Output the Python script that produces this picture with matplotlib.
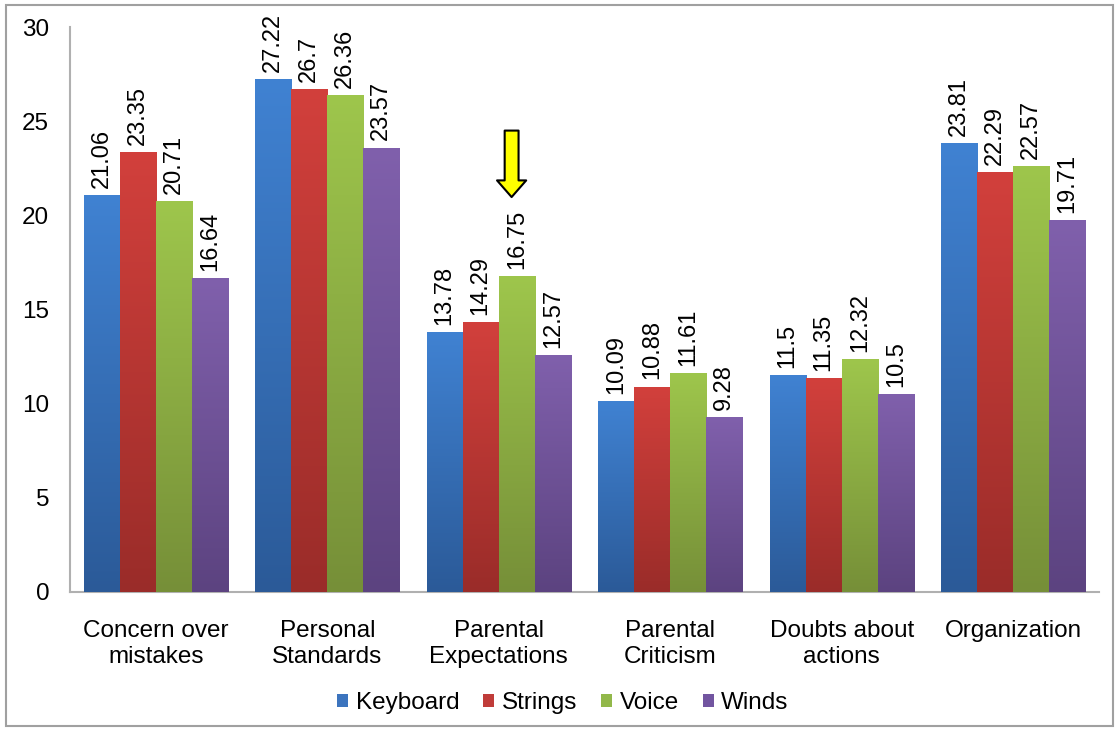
import numpy as np
import matplotlib
matplotlib.use("Agg")
import matplotlib.pyplot as plt
from matplotlib.patches import Patch, Rectangle
from matplotlib.colors import LinearSegmentedColormap

plt.rcParams['font.family'] = ['Liberation Sans', 'DejaVu Sans']

categories = ["Concern over\nmistakes", "Personal\nStandards", "Parental\nExpectations",
              "Parental\nCriticism", "Doubts about\nactions", "Organization"]
series = ["Keyboard", "Strings", "Voice", "Winds"]
keyboard = [21.06, 27.22, 13.78, 10.09, 11.5, 23.81]
strings = [23.35, 26.7, 14.29, 10.88, 11.35, 22.29]
voice = [20.71, 26.36, 16.75, 11.61, 12.32, 22.57]
winds = [16.64, 23.57, 12.57, 9.28, 10.5, 19.71]
values = [keyboard, strings, voice, winds]
yticks = [0, 5, 10, 15, 20, 25, 30]

top_colors = ["#4082d2", "#d2403c", "#9ec64c", "#8060ac"]
bot_colors = ["#2b5a98", "#9a2c29", "#768f38", "#5c4380"]
legend_colors = ["#3c74be", "#c03c39", "#92b84a", "#7255a0"]

W, H = 1119, 731
fig = plt.figure(figsize=(W / 100, H / 100), dpi=100)
ax = fig.add_axes([70 / W, (H - 592) / H, (1099 - 70) / W, (592 - 27) / H])

x = np.arange(len(categories))
bw = 0.21
for i, (vals, name) in enumerate(zip(values, series)):
    pos = x + (i - 1.5) * bw
    bars = ax.bar(pos, vals, width=bw, color=legend_colors[i], label=name, zorder=2)
    cmap = LinearSegmentedColormap.from_list(name, [bot_colors[i], top_colors[i]])
    grad = np.linspace(0, 1, 256).reshape(-1, 1)
    for b in bars:
        ax.imshow(grad, extent=(b.get_x(), b.get_x() + b.get_width(), 0, b.get_height()),
                  origin='lower', aspect='auto', cmap=cmap, zorder=3, interpolation='bicubic')
    ax.bar_label(bars, labels=[f"{v:g}" for v in vals], rotation=90, padding=5.5,
                 fontsize=17, zorder=4)

ax.set_xlim(-0.5, len(categories) - 0.5)
ax.set_ylim(0, 30)
ax.set_yticks(yticks)
ax.set_xticks(x)
ax.set_xticklabels(categories, fontsize=17.5, linespacing=1.25)
ax.tick_params(axis='y', length=0, pad=15, labelsize=17.5)
ax.tick_params(axis='x', length=0, pad=20)
for s in ['top', 'right']:
    ax.spines[s].set_visible(False)
for s in ['left', 'bottom']:
    ax.spines[s].set_color('#b0b0b0')
    ax.spines[s].set_linewidth(1.5)

# highlight arrow above Voice / Parental Expectations
ax.annotate('', xy=(2 + 0.5 * bw - 0.03, 20.97), xytext=(2 + 0.5 * bw - 0.03, 24.5),
            arrowprops=dict(arrowstyle='simple,head_length=0.6,head_width=1.05,tail_width=0.5',
                            fc='#ffff00', ec='black', lw=1.5, shrinkA=0, shrinkB=0,
                            mutation_scale=20), zorder=5)

handles = [Patch(facecolor=c, label=n) for c, n in zip(legend_colors, series)]
fig.legend(handles=handles, loc='center', bbox_to_anchor=(563 / W, 1 - 703 / H), ncol=4,
           frameon=False, fontsize=17.5, handlelength=0.45, handleheight=0.45,
           handletextpad=0.3, columnspacing=1.0)

fig.add_artist(Rectangle((6 / W, 5 / H), (W - 12) / W, (H - 10) / H, transform=fig.transFigure,
                         fill=False, edgecolor='#a0a0a0', lw=1.5))

fig.savefig("out.png", dpi=100)
